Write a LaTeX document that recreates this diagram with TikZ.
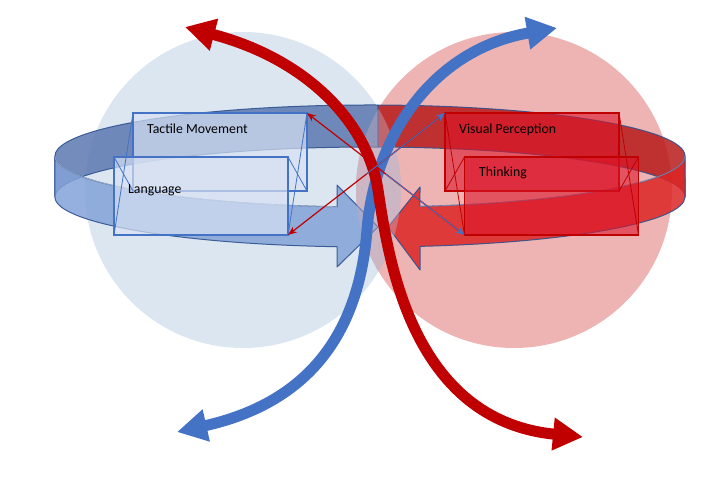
\documentclass[tikz,border=0pt]{standalone}
\usepackage{fontspec}
\setmainfont{Carlito}
\usetikzlibrary{arrows.meta,calc}

\definecolor{bluecirc}{HTML}{DCE6F1}
\definecolor{redcirc}{HTML}{EDB4B3}
\definecolor{lens}{HTML}{CDB6C4}
\definecolor{bandback}{HTML}{5A78B0}
\definecolor{bandfront}{HTML}{83A2D8}
\definecolor{redback}{HTML}{B81B1B}
\definecolor{redfront}{HTML}{DD2525}
\definecolor{edgeblue}{HTML}{2F528F}
\definecolor{accblue}{HTML}{4472C4}
\definecolor{accred}{HTML}{C00000}
\definecolor{blueboxfill}{HTML}{D7E1F3}
\definecolor{redboxfill}{HTML}{DC1428}

\tikzset{
  band/.style={draw=edgeblue, line width=1pt, fill opacity=0.85, draw opacity=0.9, line join=round},
  bighead/.tip={Triangle[length=30pt,width=31pt]},
  bigarrow/.style={line width=11pt, {bighead}-{bighead}},
  bluebox/.style={draw=accblue, line width=1.6pt, fill=blueboxfill, fill opacity=0.7,
    minimum width=174pt, minimum height=78pt, inner sep=0pt, outer sep=0pt},
  redbox/.style={draw=accred, line width=1.6pt, fill=redboxfill, fill opacity=0.6,
    minimum width=174pt, minimum height=78pt, inner sep=0pt, outer sep=0pt},
  blueedge/.style={draw=accblue, line width=0.8pt},
  rededge/.style={draw=accred, line width=0.8pt},
  lbl/.style={font=\fontsize{13.8}{16}\selectfont, text=black, inner sep=0pt, anchor=base west},
  redlink/.style={draw=accred, line width=1.2pt, -{Stealth[length=9pt,width=7pt]}},
  bluelink/.style={draw=accblue, line width=0.9pt, -{Stealth[length=9pt,width=7pt]}},
}

\begin{document}
\begin{tikzpicture}[x=1pt,y=-1pt]
\useasboundingbox (0,0) rectangle (725,483);

% the two spheres and their overlap
\fill[bluecirc] (243,190) circle[radius=158];
\fill[redcirc] (514,190) circle[radius=158];
\begin{scope}
  \clip (243,190) circle[radius=158];
  \fill[lens] (514,190) circle[radius=158];
\end{scope}

% ring: back halves (inner surface)
\filldraw[band, fill=bandback]
  (378,105) arc[start angle=271.46, end angle=180, x radius=315, y radius=51]
  -- (55,197) arc[start angle=180, end angle=271.46, x radius=315, y radius=50] -- cycle;
\filldraw[band, fill=redback]
  (378,105) arc[start angle=271.46, end angle=360, x radius=315, y radius=51]
  -- (685,197) arc[start angle=360, end angle=271.46, x radius=315, y radius=50] -- cycle;

% ring: front halves ending in arrowheads
\filldraw[band, fill=bandfront]
  (55,156) arc[start angle=180, end angle=96, x radius=315, y radius=51]
  -- (337,185) -- (378,227) -- (337,267) -- (337,246.73)
  arc[start angle=96, end angle=180, x radius=315, y radius=50] -- cycle;
\filldraw[band, fill=redfront]
  (685,156) arc[start angle=0, end angle=80.87, x radius=315, y radius=51]
  -- (420,187) -- (388,227) -- (420,270) -- (420,246.37)
  arc[start angle=80.87, end angle=0, x radius=315, y radius=50] -- cycle;
\draw[white, opacity=0.45, line width=0.8pt]
  (55,156) arc[start angle=180, end angle=96, x radius=315, y radius=51];
\draw[white, opacity=0.3, line width=0.8pt]
  (685,156) arc[start angle=0, end angle=80.87, x radius=315, y radius=51];

% overlap tint seen through the ring
\begin{scope}
  \clip (243,190) circle[radius=158];
  \fill[lens, opacity=0.4] (514,190) circle[radius=158];
\end{scope}

% crossing double arrows
\draw[bigarrow, accblue]
  (177,432) .. controls (320,400) and (360,320) .. (367,230)
  .. controls (374,140) and (430,50) .. (557,28);
\draw[bigarrow, accred]
  (185,27) .. controls (310,60) and (368,125) .. (378,190)
  .. controls (388,255) and (410,420) .. (583,437);

% boxes (front and back faces)
\node[bluebox] (tac) at (220,152) {};
\node[bluebox] (lang) at (201,196) {};
\node[redbox] (vis) at (532,152) {};
\node[redbox] (thk) at (551.5,196) {};

\draw[blueedge] (tac.north west) -- (lang.south west);
\draw[blueedge] (lang.north west) -- (tac.south west);
\draw[blueedge] (tac.north east) -- (lang.south east);
\draw[blueedge] (lang.north east) -- (tac.south east);
\draw[rededge] (vis.north west) -- (thk.south west);
\draw[rededge] (thk.north west) -- (vis.south west);
\draw[rededge] (vis.north east) -- (thk.south east);
\draw[rededge] (thk.north east) -- (vis.south east);

\node[lbl] (tactxt) at (147,133) {Tactile Movement};
\node[lbl] (langtxt) at (128,193) {Language};
\node[lbl] (vistxt) at (459,133) {Visual Perception};
\node[lbl] (thktxt) at (479,176) {Thinking};

% links between the boxes
\draw[redlink] (thk.south west) -- (tac.north east);
\draw[bluelink] ($(thk.south west)!0.5!(tac.north east)$) -- (thk.south west);
\draw[redlink] (vis.north west) -- (lang.south east);
\draw[bluelink] ($(vis.north west)!0.5!(lang.south east)$) -- (vis.north west);
\end{tikzpicture}
\end{document}
